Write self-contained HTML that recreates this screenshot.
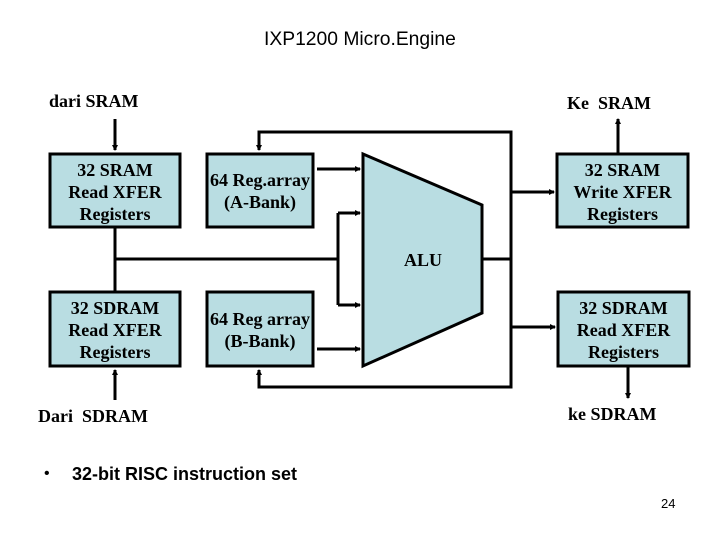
<!DOCTYPE html>
<html><head><style>
body{margin:0;width:720px;height:540px;background:#fff;overflow:hidden;position:relative}
.t{position:absolute;font-family:"Liberation Serif",serif;font-weight:bold;font-size:18px;color:#000;white-space:nowrap}
.s{position:absolute;font-family:"Liberation Sans",sans-serif;color:#000;white-space:nowrap}
</style></head><body>
<svg width="720" height="540" style="position:absolute;left:0;top:0">
<defs><marker id="a" markerWidth="6" markerHeight="6" refX="5" refY="3" orient="auto" markerUnits="userSpaceOnUse"><path d="M0,0L6,3L0,6z" fill="#000"/></marker></defs>
<g fill="#b9dde2" stroke="#000" stroke-width="3">
<rect x="50" y="154" width="130" height="73"/>
<rect x="50" y="292" width="130" height="74"/>
<rect x="207" y="154" width="106" height="73"/>
<rect x="207" y="292" width="106" height="74"/>
<rect x="557" y="154" width="131" height="73"/>
<rect x="558" y="292" width="131" height="74"/>
<polygon points="363,154 482,205 482,313 363,366"/>
</g>
<g stroke="#000" stroke-width="3" fill="none">
<line x1="115" y1="119" x2="115" y2="150" marker-end="url(#a)"/>
<line x1="115" y1="400" x2="115" y2="370" marker-end="url(#a)"/>
<line x1="115" y1="227" x2="115" y2="292"/>
<line x1="115" y1="259" x2="338" y2="259"/>
<line x1="338" y1="213" x2="338" y2="305"/>
<line x1="338" y1="213" x2="360" y2="213" marker-end="url(#a)"/>
<line x1="338" y1="305" x2="360" y2="305" marker-end="url(#a)"/>
<line x1="317" y1="169" x2="360" y2="169" marker-end="url(#a)"/>
<line x1="317" y1="349" x2="360" y2="349" marker-end="url(#a)"/>
<polyline points="259,150 259,132 511,132 511,387 259,387 259,370"/>
<line x1="259" y1="140" x2="259" y2="150" marker-end="url(#a)"/>
<line x1="259" y1="380" x2="259" y2="370" marker-end="url(#a)"/>
<line x1="482" y1="259" x2="511" y2="259"/>
<line x1="511" y1="192" x2="554" y2="192" marker-end="url(#a)"/>
<line x1="511" y1="327" x2="555" y2="327" marker-end="url(#a)"/>
<line x1="618" y1="154" x2="618" y2="119" marker-end="url(#a)"/>
<line x1="628" y1="366" x2="628" y2="398" marker-end="url(#a)"/>
</g>
</svg>
<div class="s" style="left:264px;top:29px;font-size:19.3px">IXP1200 Micro.Engine</div>
<div class="t" style="left:49px;top:91px">dari SRAM</div>
<div class="t" style="left:567px;top:93px">Ke&nbsp; SRAM</div>
<div class="t" style="left:50px;top:159px;width:130px;text-align:center;line-height:22px">32 SRAM<br>Read XFER<br>Registers</div>
<div class="t" style="left:50px;top:297px;width:130px;text-align:center;line-height:22px">32 SDRAM<br>Read XFER<br>Registers</div>
<div class="t" style="left:207px;top:169px;width:106px;text-align:center;line-height:22px">64 Reg.array<br>(A-Bank)</div>
<div class="t" style="left:207px;top:308px;width:106px;text-align:center;line-height:22px">64 Reg array<br>(B-Bank)</div>
<div class="t" style="left:557px;top:159px;width:131px;text-align:center;line-height:22px">32 SRAM<br>Write XFER<br>Registers</div>
<div class="t" style="left:558px;top:297px;width:131px;text-align:center;line-height:22px">32 SDRAM<br>Read XFER<br>Registers</div>
<div class="t" style="left:404px;top:250px">ALU</div>
<div class="t" style="left:38px;top:406px">Dari&nbsp; SDRAM</div>
<div class="t" style="left:568px;top:404px">ke SDRAM</div>
<div class="s" style="left:44px;top:465px;font-size:16px">•</div>
<div class="s" style="left:72px;top:464px;font-size:18px;font-weight:bold">32-bit RISC instruction set</div>
<div class="s" style="left:661px;top:496px;font-size:13px">24</div>
</body></html>
